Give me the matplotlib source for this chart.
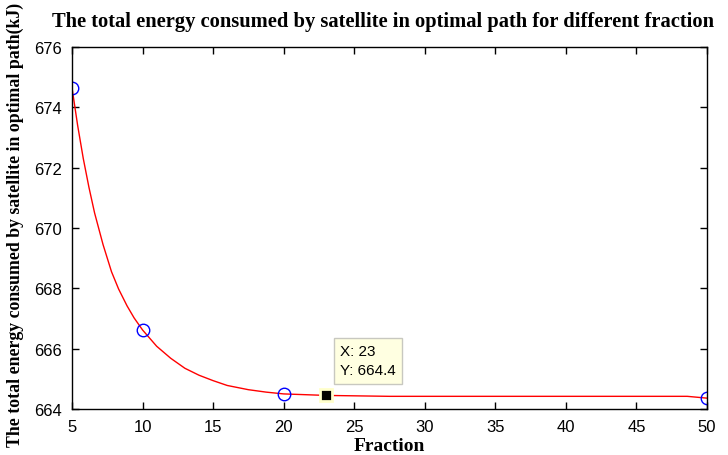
import matplotlib
matplotlib.use("Agg")
import matplotlib.pyplot as plt

# measured points (blue circles)
fraction = [5, 10, 20, 50]
energy = [674.65, 666.62, 664.5, 664.36]

# smooth fitted curve
curve_x = [5, 5.4, 5.8, 6.2, 6.6, 7.2, 7.8, 8.3, 8.9, 9.4, 10, 11, 12, 13, 14, 15, 16, 17.5,
           18.75, 20, 23, 27.5, 35, 42, 48.6, 50]
curve_y = [674.65, 673.4, 672.3, 671.35, 670.5, 669.45, 668.55, 667.98, 667.42, 667.02, 666.62,
           666.08, 665.68, 665.35, 665.12, 664.94, 664.78, 664.64, 664.56, 664.5, 664.45, 664.42,
           664.42, 664.42, 664.42, 664.36]

# data tip
tip_x = 23
tip_y = 664.45
tip_label = "X: 23\nY: 664.4"

xticks = list(range(5, 51, 5))
yticks = list(range(664, 677, 2))

fig = plt.figure(figsize=(7.28, 4.56), dpi=100)
ax = fig.add_axes([72 / 728, 1 - 410 / 456, (707 - 72) / 728, (410 - 48) / 456])

ax.plot(curve_x, curve_y, color="red", linewidth=1)
ax.plot(fraction, energy, linestyle="none", marker="o", markersize=9,
        markerfacecolor="none", markeredgecolor="blue", markeredgewidth=1)

# data cursor
ax.plot([tip_x], [tip_y], marker="s", markersize=9, color="black",
        markeredgecolor="#ffffcc", markeredgewidth=2)
ax.annotate(tip_label, xy=(tip_x, tip_y), xytext=(14, 18), textcoords="offset pixels",
            ha="left", va="bottom", fontsize=11, family="Liberation Sans", linespacing=1.45,
            bbox=dict(boxstyle="square,pad=0.4", facecolor="#ffffe1", edgecolor="#c8c8c0", linewidth=1))

ax.set_xlim(5, 50)
ax.set_ylim(664, 676)
ax.set_xticks(xticks)
ax.set_yticks(yticks)
ax.tick_params(direction="in", length=5, top=True, right=True, labelsize=12, width=1)
ax.tick_params(axis="y", pad=7)
ax.tick_params(axis="x", pad=7)
for lab in ax.get_xticklabels() + ax.get_yticklabels():
    lab.set_family("Liberation Sans")
for s in ax.spines.values():
    s.set_linewidth(1)

ax.set_title("The total energy consumed by satellite in optimal path for different fraction",
             family="Liberation Serif", fontweight="bold", fontsize=14.8, pad=15,
             x=(383 - 72) / 635)
ax.set_xlabel("Fraction", family="Liberation Serif", fontweight="bold", fontsize=14)
ax.xaxis.set_label_coords(0.5, -(447 - 410) / 362, transform=ax.transAxes)
ax.xaxis.label.set_va("center")
ax.set_ylabel("The total energy consumed by satellite in optimal path(kJ)",
              family="Liberation Serif", fontweight="bold", fontsize=12.8)
ax.yaxis.set_label_coords(-(72 - 15) / 635, (410 - 225) / 362, transform=ax.transAxes)
ax.yaxis.label.set_va("center")

fig.savefig("out.png", dpi=100)
